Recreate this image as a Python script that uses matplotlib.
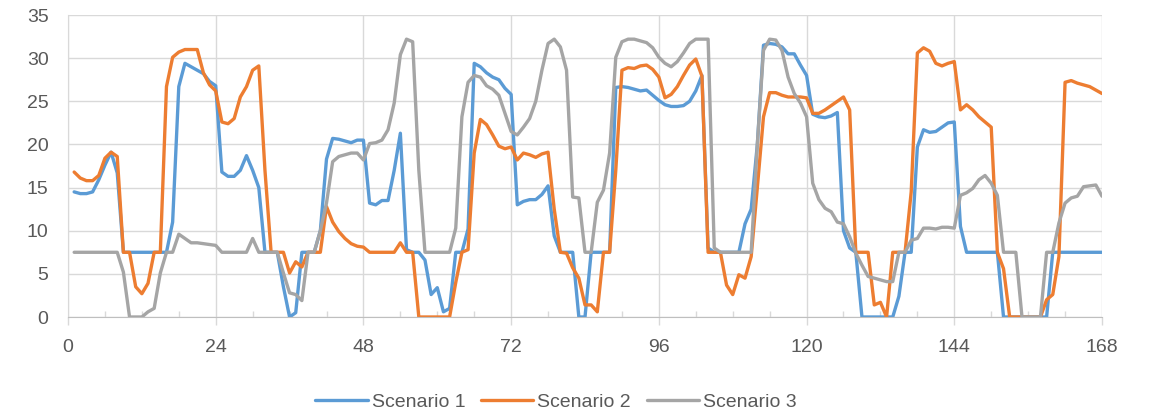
import matplotlib.pyplot as plt
from matplotlib.ticker import MultipleLocator

# hourly profile over one week (hours 1..168)
hours = list(range(1, 169))

scenario_1 = [
    14.5, 14.3, 14.3, 14.5, 15.9, 17.6, 19.1, 16.7, 7.5, 7.5, 7.5, 7.5,
    7.5, 7.5, 7.5, 7.5, 11.0, 26.7, 29.4, 29.0, 28.6, 28.2, 27.3, 26.8,
    16.8, 16.3, 16.3, 17.0, 18.7, 17.0, 15.0, 7.5, 7.5, 7.5, 3.5, 0.0,
    0.5, 7.5, 7.5, 7.5, 10.0, 18.3, 20.7, 20.6, 20.4, 20.2, 20.5, 20.5,
    13.2, 13.0, 13.5, 13.5, 17.0, 21.3, 7.8, 7.5, 7.5, 6.6, 2.6, 3.4,
    0.6, 1.0, 7.5, 7.5, 10.2, 29.4, 29.0, 28.3, 27.8, 27.5, 26.5, 25.8,
    13.0, 13.4, 13.6, 13.6, 14.2, 15.2, 9.4, 7.5, 7.5, 7.5, 0.0, 0.0,
    7.5, 7.5, 7.5, 7.5, 26.6, 26.7, 26.6, 26.4, 26.2, 26.3, 25.7, 25.1,
    24.6, 24.4, 24.4, 24.5, 25.0, 26.2, 28.0, 8.0, 7.5, 7.5, 7.5, 7.5,
    7.5, 10.8, 12.5, 20.0, 31.5, 31.7, 31.6, 31.3, 30.5, 30.5, 29.2, 28.0,
    23.5, 23.2, 23.1, 23.3, 23.7, 10.0, 8.0, 7.5, 0.0, 0.0, 0.0, 0.0,
    0.0, 0.0, 2.4, 7.5, 7.5, 19.7, 21.7, 21.4, 21.5, 22.0, 22.5, 22.6,
    10.5, 7.5, 7.5, 7.5, 7.5, 7.5, 7.5, 0.0, 0.0, 0.0, 0.0, 0.0,
    0.0, 0.0, 0.0, 7.5, 7.5, 7.5, 7.5, 7.5, 7.5, 7.5, 7.5, 7.5,
]

scenario_2 = [
    16.8, 16.1, 15.8, 15.8, 16.4, 18.4, 19.1, 18.6, 7.5, 7.5, 3.5, 2.7,
    3.9, 7.5, 7.5, 26.7, 30.1, 30.7, 31.0, 31.0, 31.0, 28.3, 26.9, 26.2,
    22.6, 22.4, 23.0, 25.5, 26.7, 28.6, 29.1, 17.0, 7.5, 7.5, 7.5, 5.1,
    6.4, 5.8, 7.5, 7.5, 7.5, 12.8, 11.0, 9.9, 9.1, 8.5, 8.2, 8.1,
    7.5, 7.5, 7.5, 7.5, 7.5, 8.6, 7.5, 7.5, 0.0, 0.0, 0.0, 0.0,
    0.0, 0.0, 4.0, 7.5, 7.8, 19.0, 22.9, 22.3, 21.1, 19.8, 19.5, 19.7,
    18.2, 19.0, 18.8, 18.5, 18.9, 19.1, 12.5, 7.5, 7.4, 5.7, 4.5, 1.4,
    1.4, 0.6, 7.5, 7.5, 17.0, 28.6, 28.9, 28.8, 29.1, 29.2, 28.7, 27.8,
    25.4, 25.8, 26.7, 28.0, 29.2, 29.9, 27.9, 7.5, 7.5, 7.5, 3.7, 2.6,
    4.9, 4.5, 7.0, 15.0, 23.2, 26.0, 26.0, 25.7, 25.5, 25.5, 25.5, 25.4,
    23.6, 23.6, 24.0, 24.5, 25.0, 25.5, 24.0, 7.5, 7.5, 7.5, 1.4, 1.7,
    0.0, 7.5, 7.5, 7.5, 14.5, 30.6, 31.2, 30.8, 29.4, 29.1, 29.4, 29.6,
    24.0, 24.6, 24.0, 23.2, 22.6, 22.0, 7.5, 5.6, 0.0, 0.0, 0.0, 0.0,
    0.0, 0.0, 2.0, 2.6, 7.0, 27.2, 27.4, 27.1, 26.9, 26.7, 26.3, 25.9,
]

scenario_3 = [
    7.5, 7.5, 7.5, 7.5, 7.5, 7.5, 7.5, 7.5, 5.2, 0.0, 0.0, 0.0,
    0.6, 1.0, 5.1, 7.5, 7.5, 9.6, 9.1, 8.6, 8.6, 8.5, 8.4, 8.3,
    7.5, 7.5, 7.5, 7.5, 7.5, 9.1, 7.5, 7.5, 7.5, 7.5, 5.1, 2.8,
    2.6, 1.9, 7.5, 7.5, 10.0, 13.2, 18.0, 18.6, 18.8, 19.0, 19.0, 18.2,
    20.1, 20.2, 20.5, 21.7, 24.8, 30.4, 32.2, 31.9, 17.0, 7.5, 7.5, 7.5,
    7.5, 7.5, 10.3, 23.2, 27.2, 28.0, 27.8, 26.8, 26.4, 25.7, 23.6, 21.5,
    21.1, 22.0, 23.0, 25.0, 28.6, 31.7, 32.2, 31.3, 28.6, 13.9, 13.8, 7.5,
    7.5, 13.3, 14.7, 19.0, 30.1, 31.9, 32.2, 32.2, 32.0, 31.8, 31.2, 30.1,
    29.4, 29.0, 29.6, 30.6, 31.7, 32.2, 32.2, 32.2, 8.0, 7.5, 7.5, 7.5,
    7.5, 7.5, 7.5, 20.0, 30.9, 32.2, 32.1, 30.9, 27.8, 25.9, 24.8, 23.2,
    15.5, 13.6, 12.6, 12.2, 11.0, 10.8, 9.3, 7.4, 6.0, 4.7, 4.5, 4.3,
    4.1, 4.1, 7.5, 7.5, 8.9, 9.1, 10.3, 10.3, 10.2, 10.4, 10.4, 10.3,
    14.1, 14.4, 14.9, 15.9, 16.4, 15.5, 14.1, 7.5, 7.5, 7.5, 0.0, 0.0,
    0.0, 0.0, 7.5, 7.5, 10.9, 13.2, 13.8, 14.0, 15.1, 15.2, 15.3, 14.0,
]

series_labels = ['Scenario 1', 'Scenario 2', 'Scenario 3']
series_colors = ['#5B9BD5', '#ED7D31', '#A5A5A5']

plt.rcParams['font.family'] = ['Liberation Sans', 'DejaVu Sans']

fig = plt.figure(figsize=(11.5, 4.17), dpi=100)
ax = fig.add_axes([68 / 1150, 1 - 317 / 417, 1034 / 1150, 302 / 417])

for values, label, color in zip([scenario_1, scenario_2, scenario_3],
                                series_labels, series_colors):
    ax.plot(hours, values, color=color, lw=2.4, label=label,
            solid_joinstyle='round', solid_capstyle='round')

ax.set_xlim(0, 168)
ax.set_ylim(0, 35)
ax.set_xticks(range(0, 169, 24))
ax.xaxis.set_minor_locator(MultipleLocator(6))
ax.set_yticks(range(0, 36, 5))

ax.grid(True, which='major', color='#d9d9d9', lw=1.0)
ax.set_axisbelow(True)
for side in ['top', 'right']:
    ax.spines[side].set_visible(False)
ax.spines['left'].set_color('#d9d9d9')
ax.spines['bottom'].set_color('#bfbfbf')

ax.tick_params(axis='y', length=0, pad=14, labelsize=14, labelcolor='#595959')
ax.tick_params(axis='x', which='major', length=6, width=1, color='#d9d9d9',
               direction='out', pad=10, labelsize=14, labelcolor='#595959')
ax.tick_params(axis='x', which='minor', length=4, width=1, color='#d9d9d9',
               direction='in')

leg = fig.legend(loc='center', bbox_to_anchor=(556 / 1150, 1 - 402 / 417),
                 ncol=3, frameon=False, fontsize=14, handlelength=2.7,
                 handletextpad=0.2, columnspacing=0.8)
for t in leg.get_texts():
    t.set_color('#595959')

fig.savefig('out.png', dpi=100)
